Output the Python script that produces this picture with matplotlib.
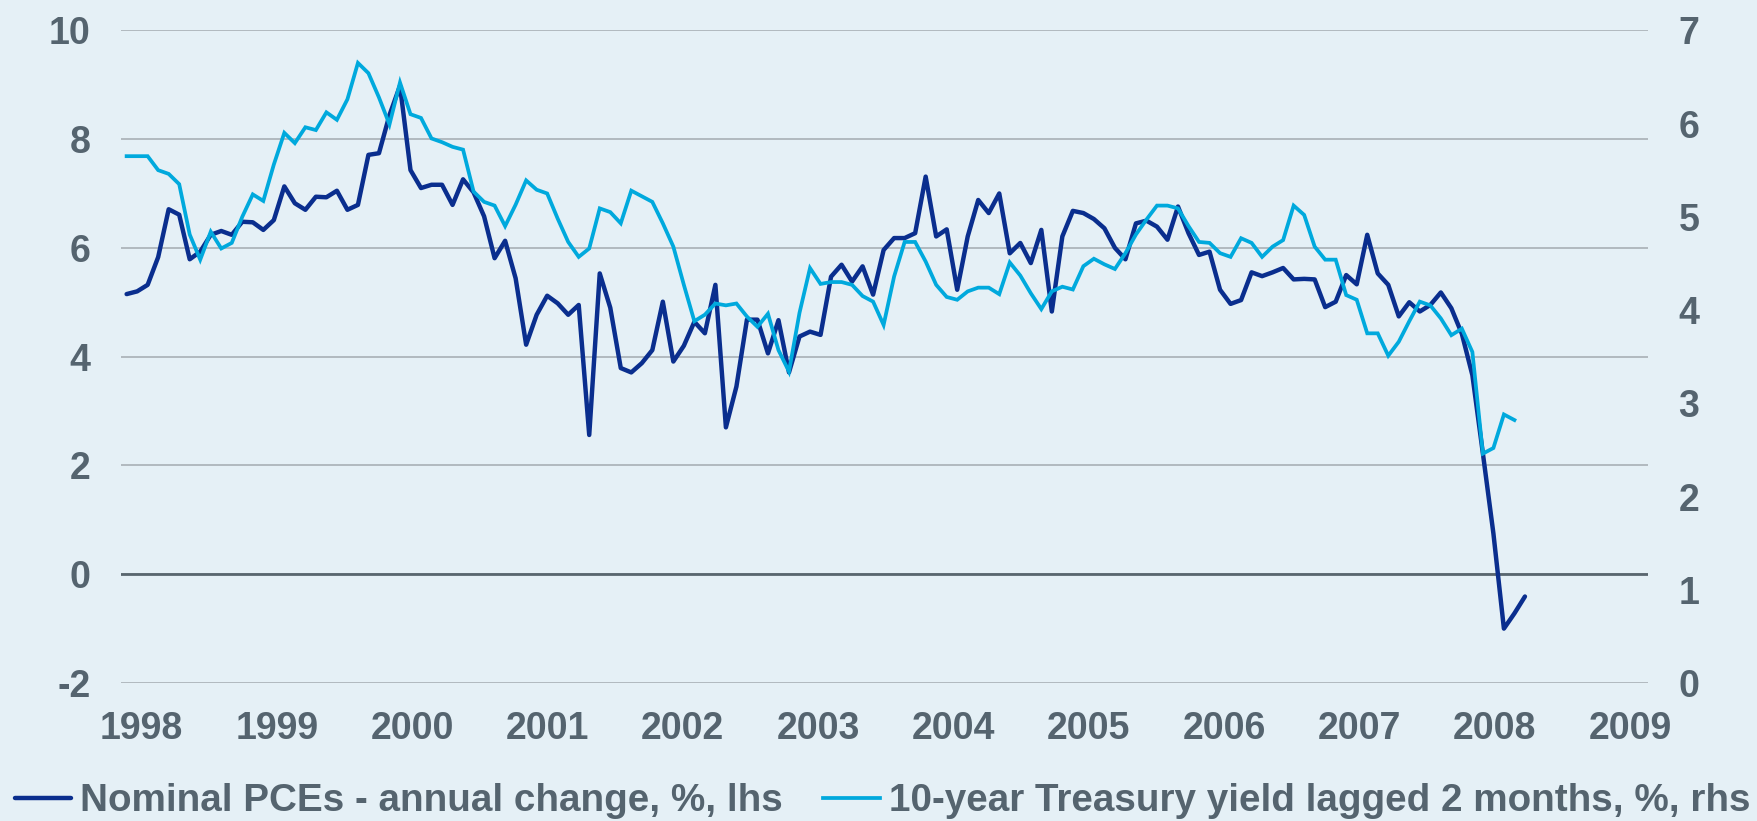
import matplotlib.pyplot as plt
import numpy as np

# colours
BG = "#E5F0F6"
NAVY = "#0A2E8E"
CYAN = "#00A9DD"
TEXT = "#55646F"
GRID = "#A8B0B6"
ZERO = "#59666F"

years = [str(y) for y in range(1998, 2010)]

# Nominal PCEs - annual change, %, lhs (monthly)
pce = [
    5.15, 5.20, 5.32, 5.83, 6.71, 6.61, 5.79, 5.93, 6.24, 6.31,
    6.24, 6.48, 6.47, 6.33, 6.51, 7.13, 6.82, 6.70, 6.94, 6.93,
    7.05, 6.70, 6.79, 7.71, 7.74, 8.44, 8.98, 7.43, 7.10, 7.16,
    7.16, 6.79, 7.26, 7.02, 6.58, 5.81, 6.13, 5.44, 4.22, 4.77,
    5.12, 4.98, 4.77, 4.95, 2.56, 5.53, 4.90, 3.79, 3.71, 3.88,
    4.12, 5.01, 3.91, 4.20, 4.64, 4.43, 5.32, 2.70, 3.45, 4.68,
    4.68, 4.06, 4.67, 3.71, 4.37, 4.46, 4.40, 5.47, 5.69, 5.38,
    5.66, 5.14, 5.96, 6.18, 6.18, 6.27, 7.31, 6.21, 6.34, 5.23,
    6.21, 6.88, 6.64, 7.00, 5.90, 6.09, 5.72, 6.33, 4.83, 6.21,
    6.68, 6.64, 6.53, 6.36, 6.00, 5.79, 6.45, 6.50, 6.39, 6.15,
    6.76, 6.27, 5.87, 5.93, 5.23, 4.97, 5.04, 5.55, 5.48, 5.55,
    5.63, 5.42, 5.43, 5.42, 4.91, 5.01, 5.50, 5.33, 6.24, 5.53,
    5.32, 4.74, 5.00, 4.83, 4.95, 5.18, 4.89, 4.42, 3.66, 2.22,
    0.75, -1.00, -0.72, -0.41,
]

# 10-year Treasury yield lagged 2 months, %, rhs (monthly)
yield10 = [
    5.65, 5.65, 5.65, 5.50, 5.46, 5.35, 4.81, 4.54, 4.84, 4.66,
    4.72, 5.00, 5.24, 5.17, 5.56, 5.90, 5.79, 5.96, 5.93, 6.12,
    6.04, 6.26, 6.65, 6.54, 6.28, 5.99, 6.44, 6.10, 6.06, 5.84,
    5.80, 5.75, 5.72, 5.27, 5.16, 5.12, 4.90, 5.13, 5.39, 5.29,
    5.25, 4.98, 4.73, 4.57, 4.66, 5.09, 5.05, 4.93, 5.28, 5.22,
    5.16, 4.93, 4.68, 4.27, 3.88, 3.95, 4.07, 4.05, 4.07, 3.93,
    3.82, 3.96, 3.57, 3.34, 3.97, 4.45, 4.28, 4.30, 4.30, 4.27,
    4.15, 4.09, 3.84, 4.36, 4.73, 4.73, 4.52, 4.27, 4.14, 4.11,
    4.20, 4.24, 4.24, 4.17, 4.51, 4.37, 4.18, 4.01, 4.20, 4.25,
    4.22, 4.47, 4.55, 4.49, 4.44, 4.61, 4.81, 4.97, 5.12, 5.12,
    5.09, 4.90, 4.73, 4.72, 4.61, 4.57, 4.77, 4.72, 4.57, 4.68,
    4.75, 5.12, 5.02, 4.68, 4.54, 4.54, 4.16, 4.11, 3.75, 3.75,
    3.51, 3.66, 3.88, 4.09, 4.05, 3.91, 3.73, 3.80, 3.55, 2.46,
    2.52, 2.88, 2.82,
]

plt.rcParams["font.family"] = ["Liberation Sans", "DejaVu Sans"]
plt.rcParams["font.weight"] = "bold"
plt.rcParams["axes.unicode_minus"] = False
FS = 27


def style_axes(ax, ax2):
    for a in (ax, ax2):
        for sp in a.spines.values():
            sp.set_visible(False)
        a.tick_params(length = 0, labelsize = FS, labelcolor = TEXT)

    ax.set_facecolor(BG)
    ax.set_ylim(-2, 10)
    ax.set_yticks(range(-2, 11, 2))
    ax.yaxis.grid(True, color = GRID, lw = 1.2)
    ax.set_axisbelow(True)
    ax.axhline(0, color = ZERO, lw = 2.0, zorder = 1)
    ax.tick_params(axis = "y", pad = 22)
    ax.tick_params(axis = "x", pad = 20)

    ax2.set_ylim(0, 7)
    ax2.set_yticks(range(0, 8))
    ax2.tick_params(axis = "y", pad = 22)

    # year labels sit every ~12.9 monthly points on this category axis
    ax.set_xticks(1.42 + 12.87 * np.arange(len(years)))
    ax.set_xticklabels(years)
    ax.set_xlim(-0.54, 144.7)


def plot_chart():
    fig = plt.figure(figsize = (17.58, 8.21), dpi = 100)
    fig.patch.set_facecolor(BG)
    ax = fig.add_axes([0.0688, 0.1681, 0.8686, 0.795])
    ax2 = ax.twinx()

    l1, = ax.plot(np.arange(len(pce)), pce, color = NAVY, lw = 3.2,
                  solid_joinstyle = "round", solid_capstyle = "round",
                  label = "Nominal PCEs - annual change, %, lhs")
    l2, = ax2.plot(np.arange(len(yield10)), yield10, color = CYAN, lw = 2.7,
                   solid_joinstyle = "miter",
                   label = "10-year Treasury yield lagged 2 months, %, rhs")

    style_axes(ax, ax2)

    leg = fig.legend(
        handles = [l1, l2],
        loc = "center",
        bbox_to_anchor = (0.502, 0.0238),
        ncol = 2,
        frameon = False,
        prop = {"size": 27.8, "weight": "bold"},
        handlelength = 1.47,
        handletextpad = 0.23,
        columnspacing = 1.04,
        borderaxespad = 0,
        borderpad = 0,
    )
    for t in leg.get_texts():
        t.set_color(TEXT)
    return fig


fig = plot_chart()
fig.savefig("out.png", dpi = 100, facecolor = BG)
